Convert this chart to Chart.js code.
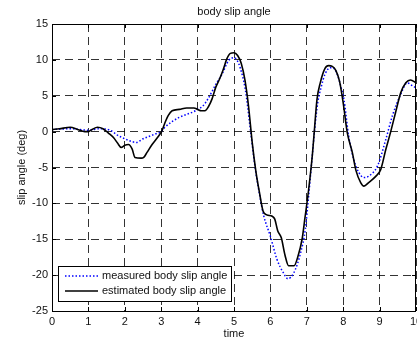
<!DOCTYPE html>
<html>
<head>
<meta charset="utf-8">
<script src="https://cdn.jsdelivr.net/npm/chart.js@4"></script>
<style>
  html, body { margin: 0; padding: 0; background: #fff; }
  #wrap { width: 417px; height: 341px; }
</style>
</head>
<body>
<div id="wrap"><canvas id="c" width="417" height="341"></canvas></div>
<script>
// ---- data ----
const chartTitle = "body slip angle";
const xAxisTitle = "time";
const yAxisTitle = "slip angle (deg)";
const seriesNames = ["measured body slip angle", "estimated body slip angle"];

const xTicks = [0, 1, 2, 3, 4, 5, 6, 7, 8, 9, 10];
const yTicks = [-25, -20, -15, -10, -5, 0, 5, 10, 15];

const measuredTime = [0, 0.5, 1.0, 1.3, 1.6, 1.8, 2.0, 2.2, 2.32, 2.5, 2.7, 2.85, 3.0, 3.1, 3.3, 3.5, 3.7, 3.9, 4.0, 4.15, 4.3, 4.5, 4.67, 4.85, 5.0, 5.1, 5.17, 5.31, 5.45, 5.58, 5.7, 5.81, 6.0, 6.18, 6.36, 6.48, 6.64, 6.83, 6.96, 7.05, 7.15, 7.22, 7.3, 7.4, 7.5, 7.65, 7.75, 7.85, 7.95, 8.02, 8.15, 8.29, 8.43, 8.57, 8.7, 8.94, 9.17, 9.35, 9.58, 9.76, 9.9, 10.0];
const measuredSlip = [0.3, 0.4, 0.2, 0.4, 0.2, -0.5, -1.0, -1.4, -1.5, -1.0, -0.6, -0.3, 0.0, 0.6, 1.4, 2.0, 2.4, 2.8, 3.1, 3.6, 4.7, 6.6, 8.0, 9.9, 10.3, 9.8, 8.9, 5.9, 0.3, -5.0, -8.7, -11.6, -14.6, -17.8, -19.7, -20.5, -19.7, -16.9, -13.6, -9.0, -3.4, 0.5, 4.0, 6.3, 8.0, 8.9, 8.8, 7.8, 6.0, 4.5, -0.6, -3.9, -5.7, -6.4, -6.2, -4.8, -1.1, 2.2, 5.2, 6.8, 6.4, 6.1];

const estimatedTime = [0, 0.2, 0.5, 0.7, 0.9, 1.0, 1.1, 1.25, 1.4, 1.55, 1.7, 1.8, 1.9, 2.0, 2.1, 2.2, 2.28, 2.45, 2.52, 2.61, 2.75, 2.93, 3.02, 3.1, 3.2, 3.3, 3.5, 3.7, 3.9, 4.0, 4.1, 4.2, 4.3, 4.4, 4.5, 4.6, 4.7, 4.8, 4.9, 5.0, 5.1, 5.2, 5.3, 5.4, 5.5, 5.6, 5.7, 5.8, 5.9, 6.05, 6.12, 6.2, 6.3, 6.4, 6.5, 6.65, 6.75, 6.87, 6.95, 7.05, 7.15, 7.21, 7.28, 7.37, 7.5, 7.6, 7.7, 7.8, 7.9, 8.0, 8.11, 8.25, 8.35, 8.48, 8.57, 8.7, 8.9, 9.03, 9.17, 9.3, 9.44, 9.58, 9.72, 9.85, 10.0];
const estimatedSlip = [0.3, 0.4, 0.6, 0.3, 0.0, 0.0, 0.3, 0.6, 0.4, -0.2, -0.9, -1.6, -2.2, -1.9, -1.8, -2.4, -3.6, -3.7, -3.6, -2.9, -1.8, -0.6, 0.1, 1.2, 2.3, 2.9, 3.1, 3.3, 3.3, 3.1, 2.9, 2.9, 3.5, 4.6, 6.2, 7.3, 8.6, 10.1, 10.9, 11.0, 10.6, 9.5, 7.2, 3.5, -1.5, -5.5, -8.5, -11.1, -11.6, -11.8, -12.2, -13.8, -14.8, -17.2, -18.7, -18.7, -17.5, -15.0, -12.0, -8.1, -3.4, 0.3, 4.5, 6.8, 8.8, 9.2, 9.1, 8.5, 7.0, 4.0, -0.1, -2.9, -5.4, -7.1, -7.6, -7.1, -6.2, -5.3, -2.5, -0.1, 2.7, 5.4, 6.8, 7.2, 6.8];

// ---- build datasets ----
const toPoints = (xs, ys) => xs.map((x, i) => ({ x: x, y: ys[i] }));
const FONT = "'Liberation Sans', Arial, sans-serif";
const TXT = '#111';

const frameTicksLegend = {
  id: 'frameTicksLegend',
  afterDraw(chart) {
    const { ctx, chartArea: a, scales } = chart;
    ctx.save();
    // title
    ctx.fillStyle = TXT;
    ctx.font = '11px ' + FONT;
    ctx.textAlign = 'center';
    ctx.textBaseline = 'middle';
    ctx.fillText(chartTitle, (a.left + a.right) / 2, 12);
    // frame
    ctx.strokeStyle = '#000';
    ctx.lineWidth = 1;
    ctx.setLineDash([]);
    ctx.strokeRect(Math.round(a.left) + 0.5, Math.round(a.top) + 0.5,
                   Math.round(a.right - a.left) - 1, Math.round(a.bottom - a.top));
    // inward tick marks
    const tl = 4;
    ctx.beginPath();
    xTicks.forEach(v => {
      const px = Math.round(scales.x.getPixelForValue(v)) + 0.5;
      ctx.moveTo(px, a.bottom); ctx.lineTo(px, a.bottom - tl);
      ctx.moveTo(px, a.top); ctx.lineTo(px, a.top + tl);
    });
    yTicks.forEach(v => {
      const py = Math.round(scales.y.getPixelForValue(v)) + 0.5;
      ctx.moveTo(a.left, py); ctx.lineTo(a.left + tl, py);
      ctx.moveTo(a.right, py); ctx.lineTo(a.right - tl, py);
    });
    ctx.stroke();
    // legend box
    const bx = 58.5, by = 266.5, bw = 173, bh = 35;
    ctx.fillStyle = '#fff';
    ctx.fillRect(bx, by, bw, bh);
    ctx.strokeStyle = '#000';
    ctx.strokeRect(bx, by, bw, bh);
    const rows = [276, 291];
    chart.data.datasets.forEach((ds, i) => {
      const y = rows[i];
      ctx.save();
      ctx.strokeStyle = ds.borderColor;
      ctx.lineWidth = ds.borderWidth;
      ctx.setLineDash(ds.borderDash || []);
      ctx.beginPath();
      ctx.moveTo(65, y);
      ctx.lineTo(98, y);
      ctx.stroke();
      ctx.restore();
      ctx.fillStyle = TXT;
      ctx.font = '11px ' + FONT;
      ctx.textAlign = 'left';
      ctx.textBaseline = 'middle';
      ctx.fillText(ds.label, 102, y);
    });
    ctx.restore();
  }
};

const gridCommon = {
  color: 'rgba(0,0,0,0.8)',
  lineWidth: 1,
  drawTicks: false
};

new Chart(document.getElementById('c'), {
  type: 'line',
  data: {
    datasets: [
      {
        label: seriesNames[0],
        data: toPoints(measuredTime, measuredSlip),
        borderColor: '#0000ff',
        borderWidth: 1.5,
        borderDash: [1.5, 2],
        pointRadius: 0,
        fill: false,
        cubicInterpolationMode: 'monotone',
        order: 1
      },
      {
        label: seriesNames[1],
        data: toPoints(estimatedTime, estimatedSlip),
        borderColor: '#000000',
        borderWidth: 1.6,
        pointRadius: 0,
        fill: false,
        cubicInterpolationMode: 'monotone',
        order: 0
      }
    ]
  },
  options: {
    responsive: false,
    animation: false,
    devicePixelRatio: 1,
    layout: { padding: { top: 24, right: 1, left: 0, bottom: 0 } },
    plugins: {
      legend: { display: false },
      tooltip: { enabled: false },
      title: { display: false }
    },
    scales: {
      x: {
        type: 'linear',
        min: 0, max: 10,
        afterBuildTicks: s => { s.ticks = xTicks.map(v => ({ value: v })); },
        ticks: { color: TXT, font: { size: 11, family: FONT }, padding: 4, maxRotation: 0, autoSkip: false },
        grid: gridCommon,
        border: { display: false, dash: [8, 5] },
        title: { display: true, text: xAxisTitle, color: TXT, font: { size: 11, family: FONT }, padding: { top: 0, bottom: 0 } },
        afterFit: s => { s.height = 30; s.paddingLeft = 0; s.paddingRight = 0; }
      },
      y: {
        type: 'linear',
        min: -25, max: 15,
        afterBuildTicks: s => { s.ticks = yTicks.map(v => ({ value: v })); },
        ticks: { color: TXT, font: { size: 11, family: FONT }, padding: 4, autoSkip: false },
        grid: gridCommon,
        border: { display: false, dash: [8, 5] },
        title: { display: true, text: yAxisTitle, color: TXT, font: { size: 11, family: FONT }, padding: { top: 15, bottom: 0 } },
        afterFit: s => { s.width = 52; s.paddingTop = 0; s.paddingBottom = 0; }
      }
    }
  },
  plugins: [frameTicksLegend]
});
</script>
</body>
</html>
